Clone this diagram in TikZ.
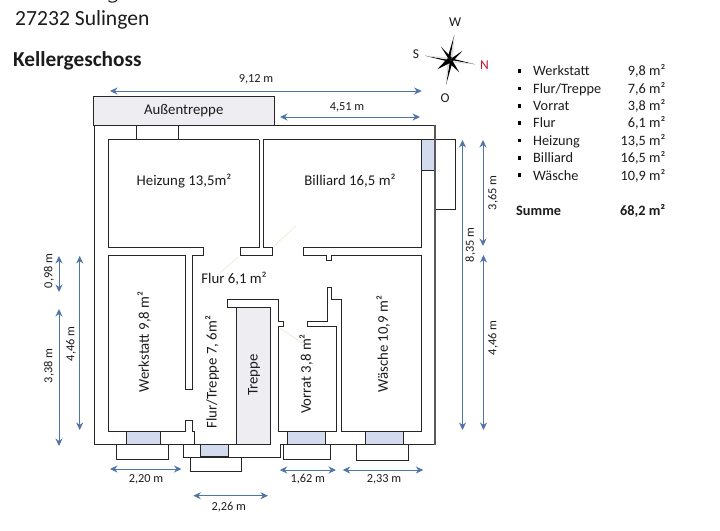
\documentclass[tikz,border=0pt]{standalone}
\usepackage{fontspec}
\setmainfont{Carlito}
\usetikzlibrary{arrows.meta}
\definecolor{wallc}{HTML}{262626}
\definecolor{outerc}{HTML}{595959}
\definecolor{dimc}{HTML}{4F74A8}
\definecolor{stairc}{HTML}{EEEEF2}
\definecolor{glassc}{HTML}{D3DCEE}
\definecolor{faintc}{HTML}{F4EFDD}
\definecolor{txtc}{HTML}{1C1C1C}
\definecolor{northc}{HTML}{C8102E}
\tikzset{
  wall/.style={draw=wallc,line width=1pt,line join=miter},
  outerwall/.style={draw=outerc,line width=1.5pt},
  stairbox/.style={wall,fill=stairc},
  glass/.style={wall,fill=glassc},
  faint/.style={draw=faintc,line width=1pt},
  dimline/.style={draw=dimc,line width=0.9pt,{Stealth[length=7.5pt,width=7pt]}-{Stealth[length=7.5pt,width=7pt]}},
  lab/.style={inner sep=0pt,text=txtc,font=\fontsize{14.8}{16}\selectfont},
  dimlab/.style={inner sep=0pt,text=txtc,font=\fontsize{12.3}{14}\selectfont},
  listlab/.style={inner sep=0pt,text=txtc,font=\fontsize{14.3}{16}\selectfont},
  listlabr/.style={listlab,anchor=east},
  listlabl/.style={listlab,anchor=west},
  compasslab/.style={inner sep=0pt,text=txtc,font=\fontsize{13.5}{15}\selectfont},
  bull/.style={fill=black,draw=none},
}
\begin{document}
\begin{tikzpicture}[x=1pt,y=-1pt]
\useasboundingbox (0,0) rectangle (720,530);
\fill[white] (0,0) rectangle (720,530);

% faint door swing marks
\draw[faint] (296,226) -- (273,247);
\draw[faint] (238,257) -- (220,273);
\draw[faint] (280,328) -- (302,343);

% stairs and windows
\path[stairbox] (236.7,307.5) rectangle (270.7,444);
\path[glass] (421.7,139.5) rectangle (435,170.3);
\path[glass] (126.3,431) rectangle (160.3,444);
\path[glass] (200.7,444) rectangle (228,456.5);
\path[glass] (287.7,431) rectangle (325,444);
\path[glass] (365.3,431) rectangle (403,444);

% outside boxes
\draw[wall] (435,139.5) -- (455.7,139.5) -- (455.7,209.3) -- (435,209.3);
\draw[wall] (116.7,444) -- (116.7,459.3) -- (168.7,459.3) -- (168.7,444);
\draw[wall] (190,457) -- (190,471) -- (241.3,471) -- (241.3,457);
\draw[wall] (283,444) -- (283,459.5) -- (330.3,459.5) -- (330.3,444);
\draw[wall] (356.7,444) -- (356.7,460) -- (408.7,460) -- (408.7,444);

% outer walls
\draw[wall] (274.5,125) -- (435,125);
\draw[wall] (94.5,125) -- (94.5,444) -- (183.5,444) -- (183.5,457) -- (280,457) -- (280,444) -- (435,444);
\draw[wall] (183.5,444) -- (271,444);
\draw[outerwall] (435,124.5) -- (435,444.5);

% outdoor stairs
\path[stairbox] (93.5,96) rectangle (274.5,125);
\draw[wall] (136,125) -- (136,139.5);
\draw[wall] (178.3,125) -- (178.3,139.5);

% Heizung and Werkstatt
\draw[wall] (259,139.5) -- (108.5,139.5) -- (108.5,247) -- (203,247) -- (203,255.5) -- (192.7,255.5) -- (192.7,389.3) -- (185.5,389.3) -- (185.5,255.5) -- (108.5,255.5) -- (108.5,431) -- (185.5,431) -- (185.5,420.5) -- (192.7,420.5) -- (192.7,431) -- (194,431) -- (194,444);
% Heizung/Billiard wall
\draw[wall] (259,139.5) -- (259,247) -- (240.3,247) -- (240.3,255) -- (272.3,255) -- (272.3,247) -- (263.5,247) -- (263.5,139.5) -- (421.7,139.5) -- (421.7,247) -- (303.3,247) -- (303.3,255) -- (326.7,255) -- (326.7,260) -- (331.7,260) -- (331.7,255) -- (421.7,255) -- (421.7,431) -- (341.3,431) -- (341.3,299.5) -- (331.3,299.5) -- (331.3,287.7) -- (327.7,287.7) -- (327.7,321.7) -- (307.3,321.7) -- (307.3,326.3) -- (336.7,326.3) -- (336.7,431) -- (278.3,431) -- (278.3,326.3) -- (283.5,326.3) -- (283.5,321.7) -- (278.3,321.7) -- (278.3,299.3) -- (227.3,299.3) -- (227.3,307.5) -- (236.7,307.5);

% room labels
\node[lab] (aussen) at (183.7,110.5) {Außentreppe};
\node[lab] (heiz) at (184,181) {Heizung 13,5m²};
\node[lab] (bill) at (350,181) {Billiard 16,5 m²};
\node[lab] (flur) at (234,279) {Flur 6,1 m²};
\node[lab,rotate=90] (werk) at (144,342) {Werkstatt 9,8 m²};
\node[lab,rotate=90] (flurtr) at (212,372) {Flur/Treppe 7, 6m²};
\node[lab,rotate=90] (trep) at (254,375) {Treppe};
\node[lab,rotate=90] (vorr) at (306,374) {Vorrat 3,8 m²};
\node[lab,rotate=90] (waes) at (383,344) {Wäsche 10,9 m²};

% dimensions
\draw[dimline] (110,91) -- (421.7,91);
\node[dimlab] (d1) at (256,79) {9,12 m};
\draw[dimline] (280,117) -- (420,117);
\node[dimlab] (d2) at (347,107) {4,51 m};
\draw[dimline] (462.5,140) -- (462.5,430);
\node[dimlab,rotate=90] (d3) at (470.5,245) {8,35 m};
\draw[dimline] (483,140) -- (483,246);
\node[dimlab,rotate=90] (d4) at (493,193) {3,65 m};
\draw[dimline] (483.5,255) -- (483.5,430);
\node[dimlab,rotate=90] (d5) at (493,338) {4,46 m};
\draw[dimline] (59,256) -- (59,292);
\node[dimlab,rotate=90] (d6) at (49,271) {0,98 m};
\draw[dimline] (59,309) -- (59,446);
\node[dimlab,rotate=90] (d7) at (49,366) {3,38 m};
\draw[dimline] (79.7,256) -- (79.7,430);
\node[dimlab,rotate=90] (d8) at (71,344) {4,46 m};
\draw[dimline] (110,469) -- (181.5,469);
\node[dimlab] (d9) at (146,479) {2,20 m};
\draw[dimline] (193.3,495.7) -- (268,495.7);
\node[dimlab] (d10) at (228.7,507) {2,26 m};
\draw[dimline] (279.7,470) -- (336,470);
\node[dimlab] (d11) at (307.7,479) {1,62 m};
\draw[dimline] (342.7,470) -- (423.3,470);
\node[dimlab] (d12) at (384,479) {2,33 m};

% header text
\draw[txtc,line width=1.1pt] (108.5,0.6) .. controls (110,2.8) and (115,2.8) .. (117,0);
\node[inner sep=0pt,anchor=base west,text=txtc,font=\fontsize{21.6}{24}\selectfont] (city) at (15,25) {27232 Sulingen};
\node[inner sep=0pt,anchor=base west,text=txtc,font=\bfseries\fontsize{21.3}{24}\selectfont] (geschoss) at (13,66) {Kellergeschoss};

% compass
\fill[black] (450,60) -- (454.3,35) -- (447.5,58) -- cycle;
\fill[gray!30] (450,60) -- (454.3,35) -- (452.8,60) -- cycle;
\fill[black] (450,60) -- (446,85) -- (452.5,62) -- cycle;
\fill[gray!30] (450,60) -- (446,85) -- (447.2,60) -- cycle;
\fill[black] (450,60) -- (425,55.7) -- (452,62.5) -- cycle;
\fill[gray!25] (450,60) -- (425,55.7) -- (450,57.3) -- cycle;
\fill[black] (450,60) -- (475,64.3) -- (448,57.5) -- cycle;
\fill[gray!25] (450,60) -- (475,64.3) -- (450,62.7) -- cycle;
\fill[black] (448,58) -- (441,46.7) -- (452,58) -- cycle;
\fill[black] (452,58) -- (462.7,50.7) -- (452,62) -- cycle;
\fill[black] (448,58) -- (437.3,69.3) -- (452,62) -- cycle;
\fill[black] (448,62) -- (459.3,72.3) -- (452,60) -- cycle;
\node[compasslab] (cw) at (455,22.5) {W};
\node[compasslab] (cs) at (416,54) {S};
\node[compasslab,text=northc] (cn) at (484.5,65) {N};
\node[compasslab] (co) at (445,98) {O};

% legend
\foreach \yy in {71,88.5,106,123.3,140.7,158,175.3} {\fill[bull] (517.5,\yy-1.9) rectangle (521,\yy+1.7);}
\node[listlabl,anchor=base west] (l1) at (533,75.5) {Werkstatt};
\node[listlabl,anchor=base west] (l2) at (533,93) {Flur/Treppe};
\node[listlabl,anchor=base west] (l3) at (533,110.3) {Vorrat};
\node[listlabl,anchor=base west] (l4) at (533,127.8) {Flur};
\node[listlabl,anchor=base west] (l5) at (533,145.2) {Heizung};
\node[listlabl,anchor=base west] (l6) at (533,162.6) {Billiard};
\node[listlabl,anchor=base west] (l7) at (533,180) {Wäsche};
\node[listlabr,anchor=base east] (v1) at (665.5,75.5) {9,8 m²};
\node[listlabr,anchor=base east] (v2) at (665.5,93) {7,6 m²};
\node[listlabr,anchor=base east] (v3) at (665.5,110.3) {3,8 m²};
\node[listlabr,anchor=base east] (v4) at (665.5,127.8) {6,1 m²};
\node[listlabr,anchor=base east] (v5) at (665.5,145.2) {13,5 m²};
\node[listlabr,anchor=base east] (v6) at (665.5,162.6) {16,5 m²};
\node[listlabr,anchor=base east] (v7) at (665.5,180) {10,9 m²};
\node[listlabl,anchor=base west,font=\bfseries\fontsize{14.3}{16}\selectfont] (sl) at (516,215) {Summe};
\node[listlabr,anchor=base east,font=\bfseries\fontsize{14.3}{16}\selectfont] (sv) at (665.5,215) {68,2 m²};
\end{tikzpicture}
\end{document}
